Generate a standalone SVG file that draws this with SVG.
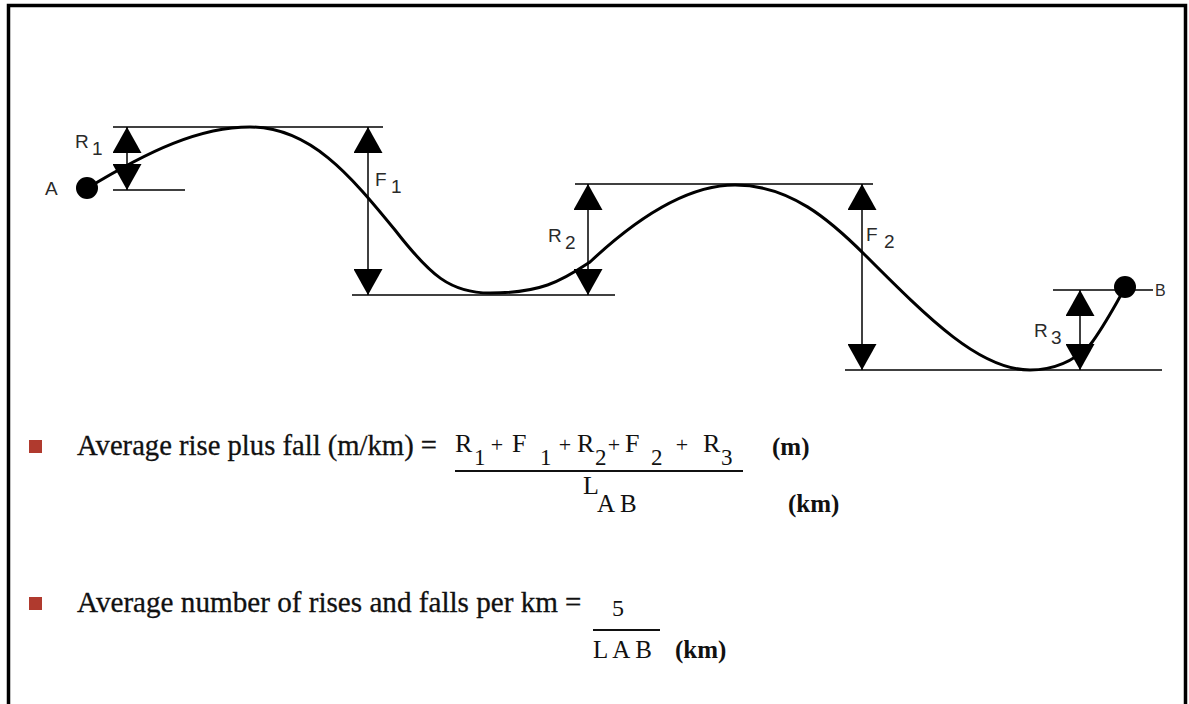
<svg xmlns="http://www.w3.org/2000/svg" width="1189" height="704" viewBox="0 0 1189 704">
<style>
.frame{fill:none;stroke:#000;stroke-width:3.5}
.guide{stroke:#000;stroke-width:1.5;fill:none}
.dim{stroke:#000;stroke-width:1.5;fill:none;marker-start:url(#ah);marker-end:url(#ah)}
.curve{fill:none;stroke:#000;stroke-width:3;stroke-linecap:round}
.lbl{font-family:"Liberation Sans",Arial,sans-serif;font-size:19px;fill:#2a2a2a}
.txt{font-family:"Liberation Serif","Times New Roman",serif;font-size:29px;fill:#111;stroke:#111;stroke-width:0.3}
.eq{font-family:"Liberation Serif","Times New Roman",serif;font-size:26px;fill:#111}
.sb{font-family:"Liberation Serif","Times New Roman",serif;font-size:23px;fill:#111}
.pl{font-family:"Liberation Serif","Times New Roman",serif;font-size:22px;fill:#111;text-anchor:middle}
.unit{font-family:"Liberation Serif","Times New Roman",serif;font-size:25px;font-weight:bold;fill:#111}
.bullet{fill:#B03A2E}
.bar{stroke:#111;stroke-width:2}
</style>
<defs>
<marker id="ah" viewBox="0 0 26 29" markerWidth="26" markerHeight="29" markerUnits="userSpaceOnUse" refX="26" refY="14.5" orient="auto-start-reverse">
<path d="M0,0 L26,14.5 L0,29 Z" fill="#000"/>
</marker>
</defs>
<rect width="1189" height="704" fill="#fff"/>
<path class="frame" d="M8.5,704 V5.5 H1185.5 V704"/>

<g id="guides">
<line class="guide" x1="113" y1="127" x2="383" y2="127"/>
<line class="guide" x1="113" y1="190" x2="185" y2="190"/>
<line class="guide" x1="352" y1="295" x2="615" y2="295"/>
<line class="guide" x1="575" y1="184" x2="873" y2="184"/>
<line class="guide" x1="845" y1="370" x2="1162" y2="370"/>
<line class="guide" x1="1053" y1="290" x2="1153" y2="290"/>
</g>

<g id="profile">
<path class="curve" d="M86,189 C150,150 200,127 250,127 C310,127 350,175 395,230 C430,275 450,293 490,293 C540,293 560,282 590,262 C640,215 690,185 735,185 C790,185 830,220 865,255 C930,320 980,370 1030,370 C1055,370 1075,360 1090,345 C1105,325 1115,305 1125,288"/>
</g>

<g id="connectors">
<line class="dim" x1="127" y1="190" x2="127" y2="127"/>
<line class="dim" x1="368" y1="295" x2="368" y2="127"/>
<line class="dim" x1="588" y1="295" x2="588" y2="184"/>
<line class="dim" x1="862" y1="370" x2="862" y2="184"/>
<line class="dim" x1="1080" y1="370" x2="1080" y2="290"/>
</g>

<g id="pointA">
<circle cx="87" cy="188" r="11" fill="#000"/>
<text class="lbl" x="45" y="195">A</text>
</g>
<g id="pointB">
<circle cx="1125" cy="287" r="11" fill="#000"/>
<text class="lbl" x="1155" y="296" style="font-size:16px">B</text>
</g>

<g id="labelR1"><text class="lbl" x="75" y="148">R</text><text class="lbl" x="92" y="155">1</text></g>
<g id="labelF1"><text class="lbl" x="375" y="186">F</text><text class="lbl" x="391" y="193">1</text></g>
<g id="labelR2"><text class="lbl" x="548" y="242">R</text><text class="lbl" x="565" y="249">2</text></g>
<g id="labelF2"><text class="lbl" x="866" y="241">F</text><text class="lbl" x="884" y="248">2</text></g>
<g id="labelR3"><text class="lbl" x="1034" y="337">R</text><text class="lbl" x="1051" y="344">3</text></g>

<g id="formula1">
<rect class="bullet" x="29" y="440" width="13" height="13"/>
<text class="txt" x="77" y="455" textLength="360" lengthAdjust="spacingAndGlyphs">Average rise plus fall (m/km) =</text>
<text class="eq" x="455" y="452">R</text><text class="sb" x="474" y="465">1</text>
<text class="pl" x="497" y="452">+</text>
<text class="eq" x="512" y="452">F</text><text class="sb" x="540" y="465">1</text>
<text class="pl" x="565" y="452">+</text>
<text class="eq" x="577" y="452">R</text><text class="sb" x="595" y="465">2</text>
<text class="pl" x="614" y="452">+</text>
<text class="eq" x="625" y="452">F</text><text class="sb" x="651" y="465">2</text>
<text class="pl" x="682" y="452">+</text>
<text class="eq" x="703" y="452">R</text><text class="sb" x="721" y="465">3</text>
<line class="bar" x1="455" y1="471" x2="743" y2="471"/>
<text class="unit" x="772" y="455">(m)</text>
<text class="eq" x="583" y="494">L</text><text class="eq" x="597" y="512" style="font-size:25px">A B</text>
<text class="unit" x="788" y="512">(km)</text>
</g>

<g id="formula2">
<rect class="bullet" x="29" y="597" width="13" height="13"/>
<text class="txt" x="77" y="612" textLength="481" lengthAdjust="spacingAndGlyphs">Average number of rises and falls per km</text>
<text class="txt" x="565" y="612">=</text>
<text class="eq" x="612" y="616" style="font-size:24px">5</text>
<line class="bar" x1="593" y1="630" x2="660" y2="630"/>
<text class="eq" x="593" y="658" style="font-size:25px">L  A B</text>
<text class="unit" x="675" y="658">(km)</text>
</g>
</svg>
